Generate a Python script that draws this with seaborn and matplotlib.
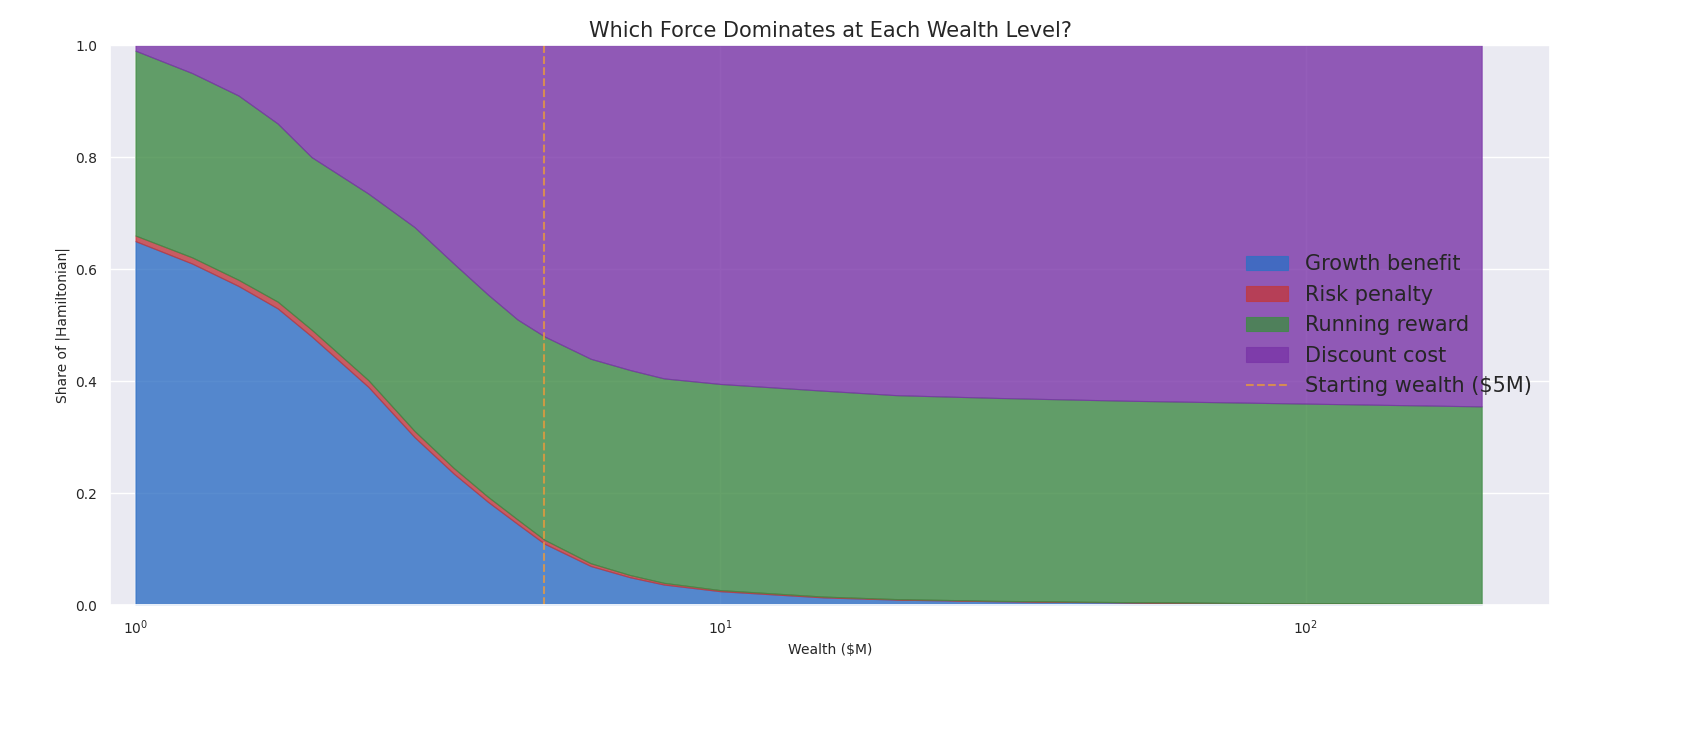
import numpy as np
import matplotlib
matplotlib.use("Agg")
import matplotlib.pyplot as plt
import seaborn as sns

wealth = [1, 1.25, 1.5, 1.75, 2, 2.5, 3, 3.5, 4, 4.5, 5, 6, 7, 8, 10, 15, 20, 30, 50, 100, 200]
growth = [.65, .61, .57, .53, .48, .39, .30, .235, .185, .145, .11, .07, .05, .037, .025, .014, .01, .007, .005, .003, .002]
risk = [.010, .011, .011, .012, .012, .012, .011, .010, .009, .008, .007, .005, .004, .003, .002, .0015, .001, .0008, .0005, .0003, .0002]
green_top = [.99, .95, .91, .86, .80, .735, .675, .61, .555, .51, .48, .44, .42, .405, .395, .383, .375, .37, .365, .36, .355]
running = [g - a - b for g, a, b in zip(green_top, growth, risk)]
discount = [1 - g for g in green_top]
labels = ["Growth benefit", "Risk penalty", "Running reward", "Discount cost"]
colors = ["#2f6fc4", "#c0393f", "#3f8a45", "#7a35a8"]

sns.set_theme(style="darkgrid")
fig = plt.figure(figsize=(16.98, 7.39), dpi=100)
ax = fig.add_axes([0.065, 0.181, 0.848, 0.758])
polys = ax.stackplot(wealth, growth, risk, running, discount, labels=labels,
                     colors=colors, alpha=0.8, linewidth=0.8)
for p, c in zip(polys, colors):
    p.set_edgecolor(c)
ax.axvline(5, color="#e89a3c", ls="--", lw=1.5, alpha=0.8, label="Starting wealth ($5M)")
ax.set_xscale("log")
ax.set_xlim(0.906, 262)
ax.set_ylim(0, 1)
ax.set_xlabel("Wealth ($M)", fontsize=10)
ax.set_ylabel("Share of |Hamiltonian|", fontsize=10)
ax.set_title("Which Force Dominates at Each Wealth Level?", fontsize=15)
ax.tick_params(labelsize=10)
ax.legend(loc="center right", fontsize=15, frameon=False)
fig.savefig("out.png", dpi=100)
